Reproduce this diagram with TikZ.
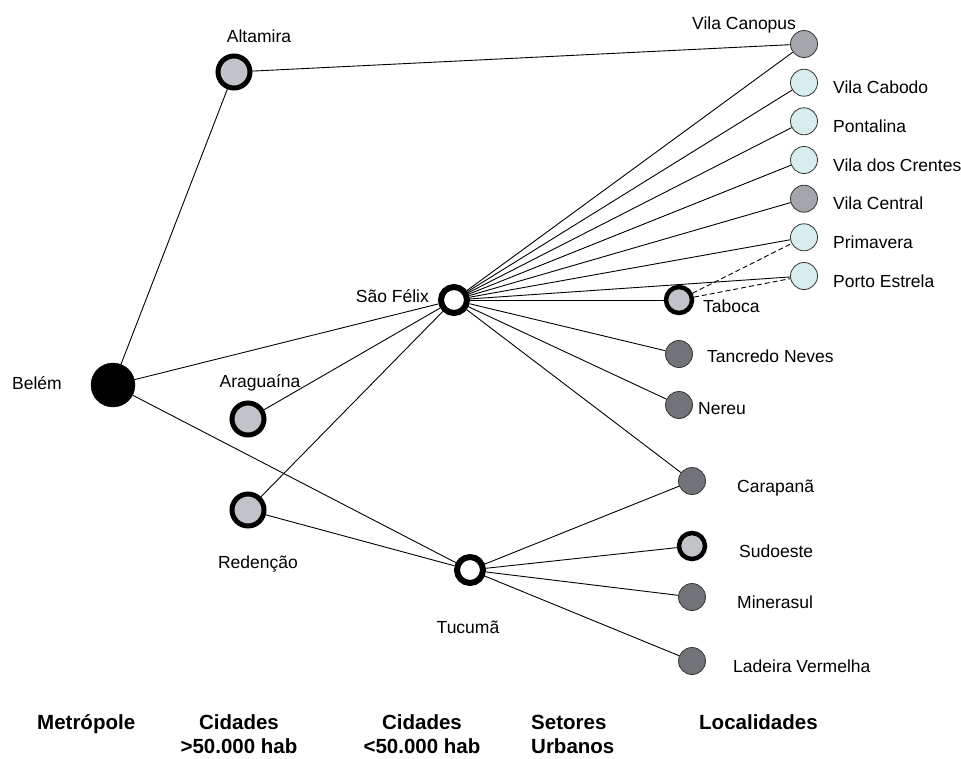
\documentclass[tikz,border=0pt]{standalone}
\usepackage{fontspec}
\setmainfont{Liberation Sans}
\usetikzlibrary{backgrounds}
\definecolor{locdark}{RGB}{112,116,120}
\definecolor{locmid}{RGB}{163,166,171}
\definecolor{loclight}{RGB}{216,238,238}
\definecolor{ringfill}{RGB}{192,196,200}
\tikzset{
  lbl/.style={font=\fontsize{17.5}{20}\selectfont, inner sep=0pt},
  tier/.style={font=\fontsize{20.5}{24}\selectfont\bfseries, inner sep=0pt, align=center},
  metro/.style={circle, fill=black, draw=black, minimum size=44pt, inner sep=0pt},
  bigcity/.style={circle, fill=ringfill, draw=black, line width=5pt, minimum size=32pt, inner sep=0pt},
  smallcity/.style={circle, fill=white, draw=black, line width=6pt, minimum size=26pt, inner sep=0pt},
  sector/.style={circle, fill=ringfill, draw=black, line width=4.5pt, minimum size=26pt, inner sep=0pt},
  loc/.style={circle, draw=black!80, line width=0.8pt, minimum size=27pt, inner sep=0pt},
  link/.style={line width=0.9pt},
}

\begin{document}
\begin{tikzpicture}[x=1pt, y=-1pt]
  \useasboundingbox (0,0) rectangle (961,758);

  \node[metro] (belem) at (113,385) {};
  \node[bigcity] (altamira) at (234,72) {};
  \node[bigcity] (araguaina) at (248,419) {};
  \node[bigcity] (redencao) at (248,510) {};
  \node[smallcity] (saofelix) at (454,300) {};
  \node[smallcity] (tucuma) at (470,570) {};
  \node[sector] (taboca) at (679,300) {};
  \node[sector] (sudoeste) at (692,546) {};
  \node[loc, fill=locmid] (canopus) at (804,44) {};
  \node[loc, fill=loclight] (cabodo) at (804,82.7) {};
  \node[loc, fill=loclight] (pontalina) at (804,121.3) {};
  \node[loc, fill=loclight] (crentes) at (804,160) {};
  \node[loc, fill=locmid] (central) at (804,198.7) {};
  \node[loc, fill=loclight] (primavera) at (804,237.3) {};
  \node[loc, fill=loclight] (estrela) at (804,276) {};
  \node[loc, fill=locdark] (tancredo) at (679,354) {};
  \node[loc, fill=locdark] (nereu) at (679,405) {};
  \node[loc, fill=locdark] (carapana) at (692,481) {};
  \node[loc, fill=locdark] (minerasul) at (692,597) {};
  \node[loc, fill=locdark] (ladeira) at (692,661) {};

  \node[lbl, anchor=base west] (belem-t) at (12,389) {Belém};
  \node[lbl, anchor=base] (altamira-t) at (259,42) {Altamira};
  \node[lbl, anchor=base] (araguaina-t) at (260,387) {Araguaína};
  \node[lbl, anchor=base] (redencao-t) at (258,568) {Redenção};
  \node[lbl, anchor=base east] (saofelix-t) at (429,302) {São Félix};
  \node[lbl, anchor=base] (tucuma-t) at (468,633) {Tucumã};
  \node[lbl, anchor=base west] (canopus-t) at (692,29) {Vila Canopus};
  \node[lbl, anchor=base west] (cabodo-t) at (833,93.7) {Vila Cabodo};
  \node[lbl, anchor=base west] (pontalina-t) at (833,132.3) {Pontalina};
  \node[lbl, anchor=base west] (crentes-t) at (833,171) {Vila dos Crentes};
  \node[lbl, anchor=base west] (central-t) at (833,209.7) {Vila Central};
  \node[lbl, anchor=base west] (primavera-t) at (833,248.3) {Primavera};
  \node[lbl, anchor=base west] (estrela-t) at (833,287) {Porto Estrela};
  \node[lbl, anchor=base west] (taboca-t) at (703,312) {Taboca};
  \node[lbl, anchor=base west] (tancredo-t) at (707,362) {Tancredo Neves};
  \node[lbl, anchor=base west] (nereu-t) at (698,414) {Nereu};
  \node[lbl, anchor=base west] (carapana-t) at (737,492) {Carapanã};
  \node[lbl, anchor=base west] (sudoeste-t) at (739,557) {Sudoeste};
  \node[lbl, anchor=base west] (minerasul-t) at (737,608) {Minerasul};
  \node[lbl, anchor=base west] (ladeira-t) at (733,672) {Ladeira Vermelha};

  \node[tier, anchor=base west] (tier1) at (37,729) {Metrópole};
  \node[tier, anchor=base] (tier2) at (239,753) {Cidades\\>50.000 hab};
  \node[tier, anchor=base] (tier3) at (422,753) {Cidades\\<50.000 hab};
  \node[tier, anchor=base west, align=left] (tier4) at (531,753) {Setores\\Urbanos};
  \node[tier, anchor=base west] (tier5) at (699,729) {Localidades};

  \begin{scope}[on background layer]
    \draw[link] (belem) -- (altamira);
    \draw[link] (belem) -- (saofelix);
    \draw[link] (belem) -- (tucuma);
    \draw[link] (altamira) -- (canopus);
    \draw[link] (araguaina) -- (saofelix);
    \draw[link] (redencao) -- (saofelix);
    \draw[link] (redencao) -- (tucuma);
    \foreach \t in {canopus,cabodo,pontalina,crentes,central,primavera,estrela,taboca,tancredo,nereu,carapana}
      \draw[link] (saofelix) -- (\t);
    \foreach \t in {carapana,sudoeste,minerasul,ladeira}
      \draw[link] (tucuma) -- (\t);
    \draw[link, dash pattern=on 5pt off 3pt] (taboca) -- (primavera);
    \draw[link, dash pattern=on 5pt off 3pt] (taboca) -- (estrela);
  \end{scope}
\end{tikzpicture}
\end{document}
